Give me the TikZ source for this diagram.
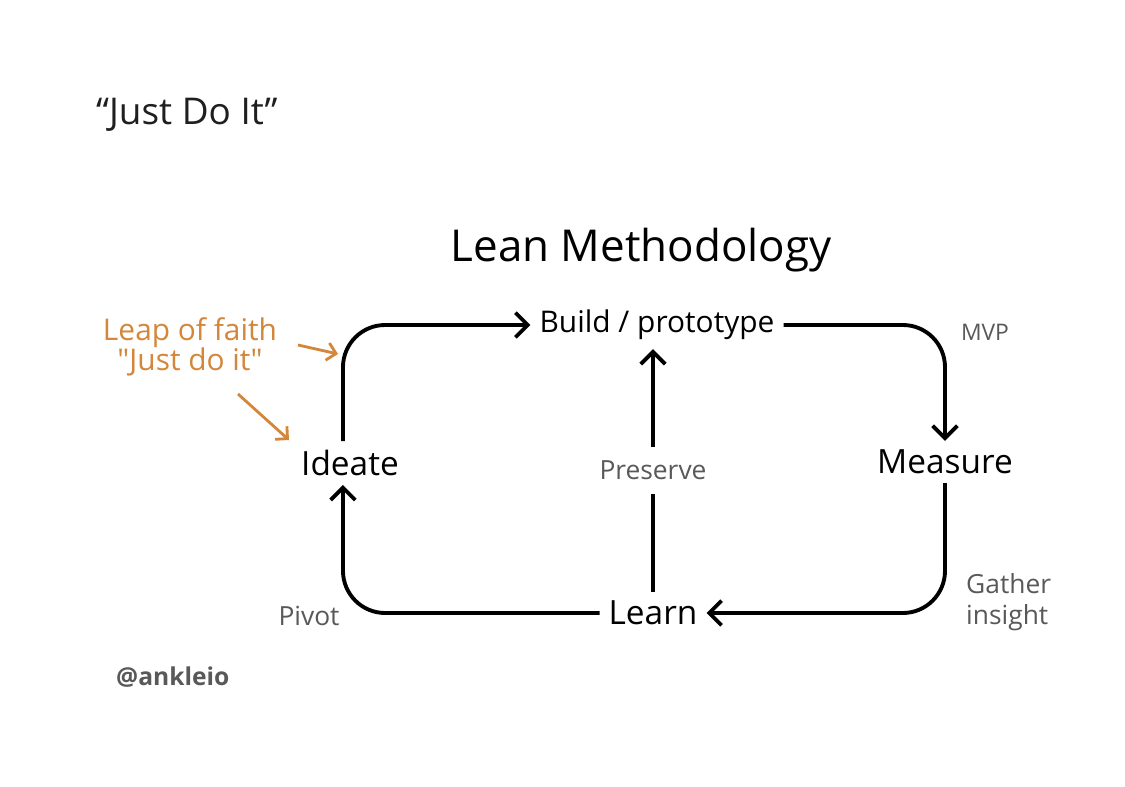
\documentclass[tikz,border=0pt]{standalone}
\usepackage{fontspec}
\setmainfont{Open Sans}
\usetikzlibrary{arrows.meta, positioning}
\definecolor{leaporange}{RGB}{212,134,58}

\begin{document}
\begin{tikzpicture}[x=0.02cm, y=-0.02cm]
    \tikzset{
        stage/.style = {inner sep=5pt, font=\fontsize{19}{22}\selectfont, text=black},
        line/.style = {draw=black, line width=2.2pt, rounded corners=24pt, -{Straight Barb[length=7pt, width=14pt, line width=2.2pt]}},
        note/.style = {text=black!65, font=\fontsize{15}{18}\selectfont},
        leap/.style = {text=leaporange, font=\fontsize{17}{17}\selectfont, align=center},
        leapline/.style = {draw=leaporange, line width=1.6pt, -{Straight Barb[length=5pt, width=10pt, line width=1.6pt]}},
    }
    \useasboundingbox[fill=white] (0,0) rectangle (1125,787);

    \node[anchor=west, text=black!88, font=\fontsize{21}{24}\selectfont](title) at (90,115){“Just Do It”};
    \node[font=\fontsize{25}{30}\selectfont](lean) at (641,250){Lean Methodology};

    \node[stage, font=\fontsize{17}{20}\selectfont](build) at (657,325){Build / prototype};
    \node[stage](ideate) at (350,463){Ideate};
    \node[stage](measure) at (945,462){Measure};
    \node[stage](learn) at (653,613){Learn};

    \node[note, font=\fontsize{13}{16}\selectfont](mvp) at (985,332){MVP};
    \node[note](pivot) at (309,616){Pivot};
    \node[note, align=left, anchor=west](gather) at (960,602){Gather\\insight};

    \node[leap](faith) at (190,347){Leap of faith\\\textquotedbl Just do it\textquotedbl};
    \node[anchor=west, text=black!65, font=\bfseries\fontsize{14}{17}\selectfont](handle) at (110,677){@ankleio};

    \coordinate (a1) at (298,345);
    \coordinate (b1) at (338,354);
    \coordinate (a2) at (238,394);
    \coordinate (b2) at (289,440);

    \path [line] ([xshift=-4pt]ideate.north) |- (build.west);
    \path [line] (build.east) -| (measure.north);
    \path [line] (measure.south) |- (learn.east);
    \path [line] (learn.west) -| ([xshift=-4pt]ideate.south);
    \path [line, rounded corners=0pt] (learn.north) -- node[note, fill=white, inner ysep=8pt]{Preserve} (learn.north |- build.south);

    \path [leapline] (a1) -- (b1);
    \path [leapline] (a2) -- (b2);

\end{tikzpicture}
\end{document}
